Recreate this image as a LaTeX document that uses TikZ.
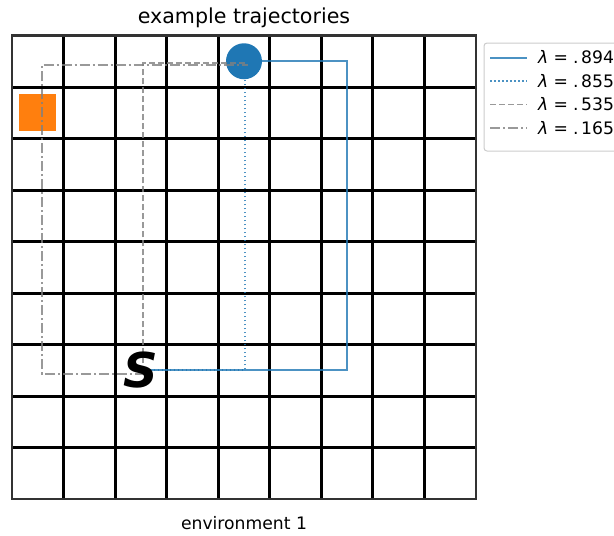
\documentclass[tikz,border=0pt]{standalone}
\usepackage{fontspec}
\setmainfont{DejaVu Sans}
\usepackage{tikz}
\usetikzlibrary{positioning, calc}
\definecolor{tabblue}{RGB}{31, 119, 180}
\definecolor{taborange}{RGB}{255, 127, 14}
\definecolor{legborder}{RGB}{204, 204, 204}
\newcommand{\lam}[1]{\textit{λ}\hspace{0.3em}=\hspace{0.3em}.\hspace{0.15em}#1}

\begin{document}
\begin{tikzpicture}[
  x=1pt, y=-1pt,
  cellline/.style={line width=3pt, color=black},
  frameline/.style={line width=2.2pt, color=black!80},
  goal/.style={circle, fill=tabblue, minimum size=36pt, inner sep=0pt},
  target/.style={rectangle, fill=taborange, minimum size=37pt, inner sep=0pt},
  startmark/.style={font=\fontsize{48}{48}\selectfont\bfseries\itshape, inner sep=0pt},
  path894/.style={line width=2pt, tabblue, opacity=0.8},
  path855/.style={line width=2pt, tabblue, opacity=0.8, dash pattern=on 1.5pt off 2.5pt},
  path535/.style={line width=1.8pt, gray, opacity=0.8, dash pattern=on 6pt off 3pt},
  path165/.style={line width=1.8pt, gray, opacity=0.8, dash pattern=on 10pt off 3pt on 2pt off 3pt},
  legbox/.style={draw=legborder, fill=white, rounded corners=3pt, line width=1pt},
  legtext/.style={font=\fontsize{17.2}{20}\selectfont, anchor=west, inner sep=0pt},
]
\useasboundingbox (0,0) rectangle (614,536);
\clip (0,0) rectangle (614,536);

% title and axis label
\node[font=\fontsize{20.6}{24}\selectfont] (title) at (244,18) {example trajectories};
\node[font=\fontsize{17.2}{20}\selectfont] (xlabel) at (244,523) {environment 1};

\begin{scope}[shift={(12,35.5)}, x=51.55pt, y=-51.5pt]
  % grid world
  \foreach \i in {1,...,8} {
    \draw[cellline] (\i,0) -- (\i,9);
    \draw[cellline] (0,\i) -- (9,\i);
  }
  \draw[frameline] (0,0) rectangle (9,9);
  \node[target] (box) at (0.5,1.5) {};
  \node[goal] (goal) at (4.5,0.5) {};
  \coordinate (start) at (2.5,6.5);
  \coordinate (c06) at (0.5,6.5);
  \coordinate (c00) at (0.5,0.5);
  \coordinate (c20) at (2.5,0.5);
  \coordinate (c46) at (4.5,6.5);
  \coordinate (c66) at (6.5,6.5);
  \coordinate (c60) at (6.5,0.5);

  % trajectories
  \draw[path894] (start) -- (c66) -- (c60) -- (goal.center);
  \draw[path855] ([shift={(1pt,0pt)}]start) -- ([shift={(1pt,0pt)}]c46) -- ([shift={(1pt,0pt)}]goal.center);
  \draw[path535] ([shift={(2pt,-2pt)}]start) -- ([shift={(2pt,-2pt)}]c20) -- ([shift={(2pt,-2pt)}]goal.center);
  \draw[path165] ([shift={(4pt,-3.7pt)}]start) -- ([shift={(4pt,-3.7pt)}]c06) -- ([shift={(4pt,-3.7pt)}]c00) -- ([shift={(4pt,-3.7pt)}]goal.center);

  \node[startmark] (smark) at (start) {S};
\end{scope}

% legend
\draw[legbox] (484,43) rectangle (640,151);
\draw[path894] (490,57.5) -- (527,57.5);
\node[legtext] (l894) at (538,57.5) {\lam{894}};
\draw[path855] (490,81) -- (527,81);
\node[legtext] (l855) at (538,81) {\lam{855}};
\draw[path535] (490,104.5) -- (527,104.5);
\node[legtext] (l535) at (538,104.5) {\lam{535}};
\draw[path165] (490,128) -- (527,128);
\node[legtext] (l165) at (538,128) {\lam{165}};
\end{tikzpicture}
\end{document}
